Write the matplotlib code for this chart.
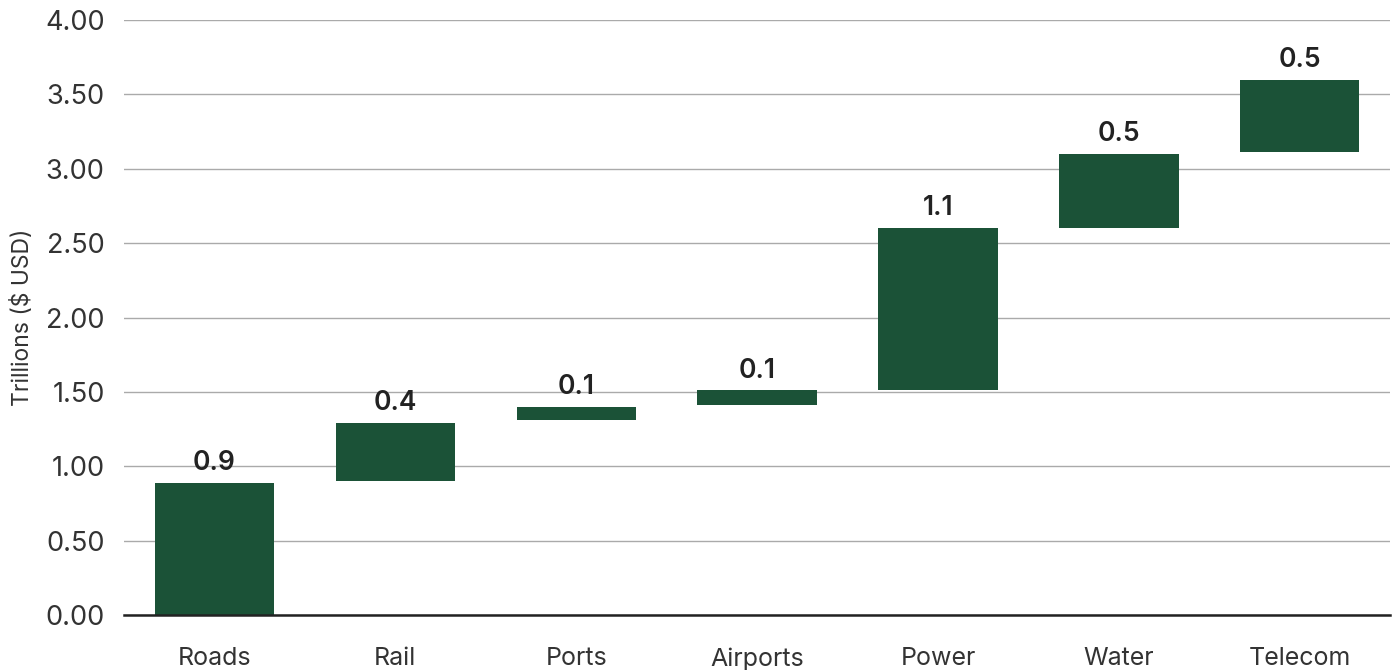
import matplotlib
matplotlib.use("Agg")
import matplotlib.pyplot as plt

# Infrastructure investment need by sector, stacked as a waterfall
categories = ["Roads", "Rail", "Ports", "Airports", "Power", "Water", "Telecom"]
bases = [0.00, 0.90, 1.31, 1.41, 1.51, 2.60, 3.11]
values = [0.89, 0.39, 0.09, 0.10, 1.09, 0.50, 0.49]
y_ticks = [0.0, 0.5, 1.0, 1.5, 2.0, 2.5, 3.0, 3.5, 4.0]

plt.rcParams["font.family"] = ["Inter", "DejaVu Sans"]

fig = plt.figure(figsize=(14, 6.7), dpi=100)
ax = fig.add_axes([0.0886, 0.082, 0.9044, 0.888])

bar_color = "#1b5237"
x = range(len(categories))
bars = ax.bar(x, values, bottom=bases, width=0.66, color=bar_color, zorder=3)

for xi, b, v in zip(x, bases, values):
    ax.annotate(f"{v:.1f}", xy=(xi, b + v), xytext=(0, 5), textcoords="offset points",
                ha="center", va="bottom", fontsize=19, fontweight="semibold", color="#222222")

ax.set_xlim(-0.5, len(categories) - 0.5)
ax.set_ylim(0, 4.0)
ax.set_yticks(y_ticks)
ax.set_yticklabels([f"{t:.2f}" for t in y_ticks])
ax.set_xticks(list(x))
ax.set_xticklabels(categories)

ax.grid(axis="y", color="#aaaaaa", linewidth=1.0, zorder=0)
ax.set_axisbelow(True)
for side in ["top", "right", "left"]:
    ax.spines[side].set_visible(False)
ax.spines["bottom"].set_color("#222222")
ax.spines["bottom"].set_linewidth(1.8)
ax.spines["bottom"].set_zorder(4)

ax.tick_params(axis="y", length=0, pad=14, labelsize=19.5, labelcolor="#333333")
ax.tick_params(axis="x", length=0, pad=23, labelsize=18, labelcolor="#333333")
ax.set_ylabel("Trillions ($ USD)", fontsize=16.5, color="#333333", labelpad=8)

fig.savefig("out.png", dpi=100, facecolor="white")
